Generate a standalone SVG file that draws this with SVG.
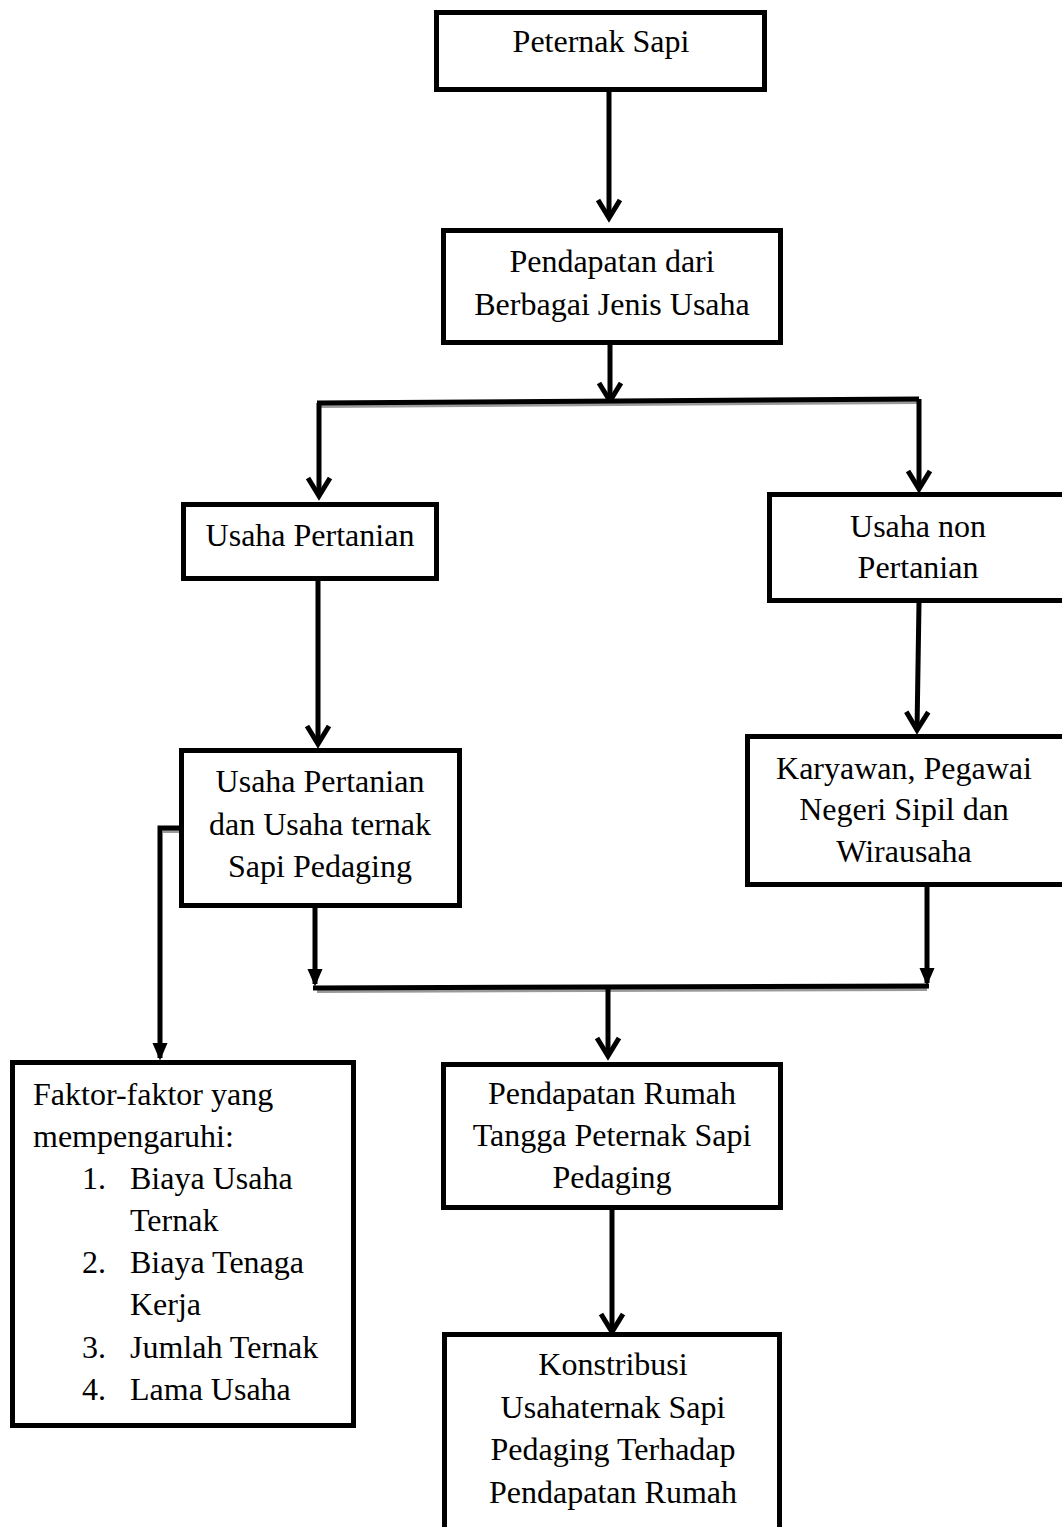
<svg xmlns="http://www.w3.org/2000/svg" width="1062" height="1527" viewBox="0 0 1062 1527">
<style>
.box{fill:#fff;stroke:#000;stroke-width:5}
.t{font-family:"Liberation Serif","Times New Roman",serif;font-size:32px;fill:#000}
.c{text-anchor:middle}
.ln{fill:none;stroke:#000;stroke-width:5}
.sh{fill:none;stroke:#9a9a9a;stroke-width:4}
</style>
<defs>
<marker id="v" markerUnits="userSpaceOnUse" viewBox="-24 -14 30 28" markerWidth="30" markerHeight="28" refX="0" refY="0" orient="auto">
<path d="M-18,-11 L0,0 L-18,11" fill="none" stroke="#000" stroke-width="5" stroke-linejoin="miter"/>
</marker>
<marker id="vs" markerUnits="userSpaceOnUse" viewBox="-20 -10 24 20" markerWidth="24" markerHeight="20" refX="0" refY="0" orient="auto">
<path d="M-14,-6 L0,0 L-14,6 Z" fill="#000" stroke="#000" stroke-width="2"/>
</marker>
</defs>

<g id="connectors">
<line class="ln" x1="609" y1="92" x2="609" y2="218" marker-end="url(#v)"/>
<line class="ln" x1="610" y1="345" x2="610" y2="401" marker-end="url(#v)"/>
<line class="sh" x1="321" y1="406" x2="919" y2="402"/>
<line class="ln" x1="317" y1="403" x2="919" y2="399"/>
<line class="ln" x1="319" y1="403" x2="319" y2="496" marker-end="url(#v)"/>
<line class="ln" x1="919" y1="399" x2="919" y2="489" marker-end="url(#v)"/>
<line class="ln" x1="318" y1="581" x2="318" y2="744" marker-end="url(#v)"/>
<line class="ln" x1="919" y1="603" x2="917" y2="730" marker-end="url(#v)"/>
<path class="sh" d="M181,831 L163,831"/>
<path class="ln" d="M180,828 L160,828 L160,1058" marker-end="url(#vs)"/>
<line class="ln" x1="315" y1="908" x2="315" y2="984" marker-end="url(#vs)"/>
<line class="ln" x1="927" y1="887" x2="927" y2="983" marker-end="url(#vs)"/>
<line class="sh" x1="317" y1="991" x2="927" y2="989"/>
<line class="ln" x1="313" y1="988" x2="929" y2="986"/>
<line class="ln" x1="608" y1="987" x2="608" y2="1056" marker-end="url(#v)"/>
<line class="ln" x1="612" y1="1210" x2="612" y2="1332" marker-end="url(#v)"/>
</g>

<g id="n1">
<rect class="box" x="436.5" y="12.5" width="328" height="77"/>
<text class="t c" x="601" y="52">Peternak Sapi</text>
</g>
<g id="n2">
<rect class="box" x="443.5" y="230.5" width="337" height="112"/>
<text class="t c" x="612" y="272">Pendapatan dari</text>
<text class="t c" x="612" y="315">Berbagai Jenis Usaha</text>
</g>
<g id="n3">
<rect class="box" x="183.5" y="504.5" width="253" height="74"/>
<text class="t c" x="310" y="546">Usaha Pertanian</text>
</g>
<g id="n4">
<rect class="box" x="769.5" y="494.5" width="300" height="106"/>
<text class="t c" x="918" y="537">Usaha non</text>
<text class="t c" x="918" y="578">Pertanian</text>
</g>
<g id="n5">
<rect class="box" x="181.5" y="750.5" width="278" height="155"/>
<text class="t c" x="320" y="792">Usaha Pertanian</text>
<text class="t c" x="320" y="835">dan Usaha ternak</text>
<text class="t c" x="320" y="877">Sapi Pedaging</text>
</g>
<g id="n6">
<rect class="box" x="747.5" y="736.5" width="322" height="148"/>
<text class="t c" x="904" y="779">Karyawan, Pegawai</text>
<text class="t c" x="904" y="820">Negeri Sipil dan</text>
<text class="t c" x="904" y="862">Wirausaha</text>
</g>
<g id="n7">
<rect class="box" x="12.5" y="1062.5" width="341" height="363"/>
<text class="t" x="33" y="1105">Faktor-faktor yang</text>
<text class="t" x="33" y="1147">mempengaruhi:</text>
<text class="t" x="82" y="1189">1.</text>
<text class="t" x="130" y="1189">Biaya Usaha</text>
<text class="t" x="130" y="1231">Ternak</text>
<text class="t" x="82" y="1273">2.</text>
<text class="t" x="130" y="1273">Biaya Tenaga</text>
<text class="t" x="130" y="1315">Kerja</text>
<text class="t" x="82" y="1358">3.</text>
<text class="t" x="130" y="1358">Jumlah Ternak</text>
<text class="t" x="82" y="1400">4.</text>
<text class="t" x="130" y="1400">Lama Usaha</text>
</g>
<g id="n8">
<rect class="box" x="443.5" y="1064.5" width="337" height="143"/>
<text class="t c" x="612" y="1104">Pendapatan Rumah</text>
<text class="t c" x="612" y="1146">Tangga Peternak Sapi</text>
<text class="t c" x="612" y="1188">Pedaging</text>
</g>
<g id="n9">
<rect class="box" x="444.5" y="1334.5" width="335" height="220"/>
<text class="t c" x="613" y="1375">Konstribusi</text>
<text class="t c" x="613" y="1418">Usahaternak Sapi</text>
<text class="t c" x="613" y="1460">Pedaging Terhadap</text>
<text class="t c" x="613" y="1503">Pendapatan Rumah</text>
</g>
</svg>
